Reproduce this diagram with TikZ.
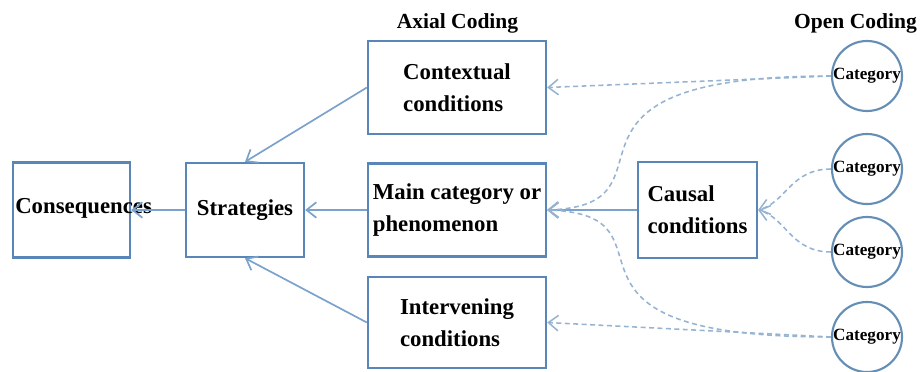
\documentclass[tikz,border=0pt]{standalone}
\usepackage{fontspec}
\setmainfont{Liberation Serif}
\usetikzlibrary{arrows.meta}
\definecolor{boxblue}{RGB}{88,134,184}
\definecolor{circblue}{RGB}{100,142,182}
\definecolor{arrowblue}{RGB}{122,162,204}
\definecolor{dashblue}{RGB}{150,180,210}

\begin{document}
\begin{tikzpicture}[x=0.025cm,y=-0.025cm]

%
% Styles
%
\tikzstyle{stage}    = [inner sep=0pt,font=\fontsize{15.3}{18}\selectfont\bfseries]
\tikzstyle{wording}  = [inner sep=0pt,align=left,font=\fontsize{16.2}{22.8}\selectfont\bfseries]
\tikzstyle{concept}  = [wording,rectangle,draw=boxblue,line width=1.6pt]
\tikzstyle{category} = [circle,draw=circblue,line width=1.5pt,minimum size=1.75cm,inner sep=0pt,font=\fontsize{12.2}{14}\selectfont\bfseries]

\tikzstyle{flow}     = [-{Straight Barb[length=7pt,width=11pt]},draw=arrowblue,line width=1.2pt]
\tikzstyle{dflow}    = [-{Straight Barb[length=7pt,width=11pt]},draw=dashblue,line width=1.1pt,dash pattern=on 3.5pt off 2.5pt]

\useasboundingbox[fill=white] (0,0) rectangle (920,372);

\node[stage]    (axial)   at (457.5, 23)  {Axial Coding};
\node[stage]    (open)    at (855.5, 23)  {Open Coding};

\node[concept,minimum width=2.925cm,minimum height=2.375cm] (cons)    at ( 71.5,210) {};
\node[wording,anchor=west]                                   (constxt) at ( 15,  208) {Consequences};
\node[concept,minimum width=2.95cm, minimum height=2.35cm]  (strat)   at (245,  210) {Strategies};
\node[concept,minimum width=4.45cm, minimum height=2.325cm] (context) at (457,   87.5) {Contextual\\conditions};
\node[concept,minimum width=4.45cm, minimum height=2.325cm] (main)    at (457,  210) {Main category or\\phenomenon};
\node[concept,minimum width=4.45cm, minimum height=2.275cm] (interv)  at (457,  322.5) {Intervening\\conditions};
\node[concept,minimum width=2.975cm,minimum height=2.4cm]   (causal)  at (697.5,210) {Causal\\conditions};

\node[category] (cat1) at (867,  76) {Category};
\node[category] (cat2) at (867, 169) {Category};
\node[category] (cat3) at (867, 252) {Category};
\node[category] (cat4) at (867, 337) {Category};

\draw[flow]  (context.west) -- (strat.north);
\draw[flow]  (interv.west)  -- (strat.south);
\draw[flow]  (main.west)    -- (strat.east);
\draw[flow]  (strat.west)   -- (cons.east);
\draw[flow]  (causal.west)  -- (main.east);

\draw[dflow] (cat1.west) -- (context.east);
\draw[dflow] (cat4.west) -- (interv.east);
\draw[dflow] (cat1.west) .. controls +(-312,0) and +(144,-5) .. (main.east);
\draw[dflow] (cat4.west) .. controls +(-312,0) and +(144,5)  .. (main.east);
\draw[dflow] (cat2.west) .. controls +(-40,0)  and +(28,-8)  .. (causal.east);
\draw[dflow] (cat3.west) .. controls +(-40,0)  and +(28,8)   .. (causal.east);

\end{tikzpicture}
\end{document}
